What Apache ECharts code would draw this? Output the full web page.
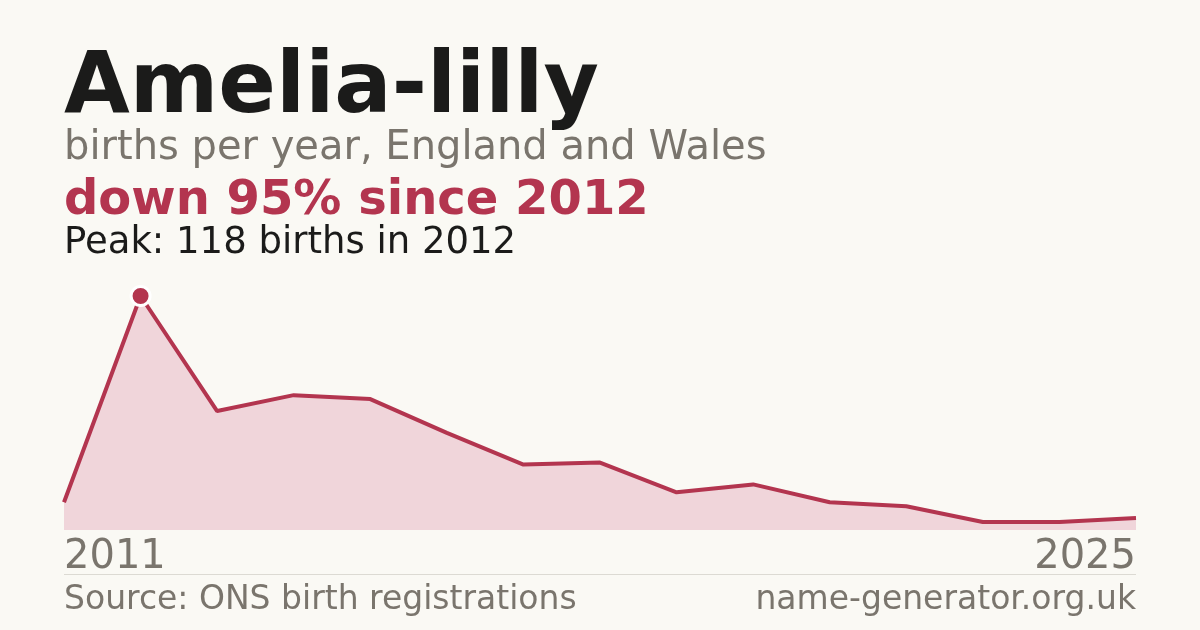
<!DOCTYPE html>
<html>
<head>
<meta charset="utf-8">
<script src="https://cdn.jsdelivr.net/npm/echarts@6/dist/echarts.min.js"></script>
<style>
html,body{margin:0;padding:0;background:#faf9f4;}
#c{width:1200px;height:630px;}
</style>
</head>
<body>
<div id="c"></div>
<script>
const years = ['2011','2012','2013','2014','2015','2016','2017','2018','2019','2020','2021','2022','2023','2024','2025'];
const births = [14,118,60,68,66,49,33,34,19,23,14,12,4,4,6];
const peakYear = '2012';
const peakValue = 118;

const RED = '#b3354f';
const GRAY = '#7a756d';
const FONT = 'DejaVu Sans';

const chart = echarts.init(document.getElementById('c'), null, {renderer:'canvas'});
chart.setOption({
  backgroundColor:'#faf9f4',
  animation:false,
  grid:{left:64,right:64,top:296,bottom:100},
  xAxis:{
    type:'category',
    data:years,
    boundaryGap:false,
    axisLine:{show:false},
    axisTick:{show:false},
    splitLine:{show:false},
    axisLabel:{
      interval:function(i){return i===0||i===years.length-1;},
      alignMinLabel:'left',
      alignMaxLabel:'right',
      color:GRAY,
      fontFamily:FONT,
      fontSize:40,
      margin:8
    }
  },
  yAxis:{
    type:'value',
    min:0,
    max:peakValue,
    show:false
  },
  series:[{
    type:'line',
    data:births,
    symbol:'none',
    lineStyle:{color:RED,width:4},
    areaStyle:{color:'#f0d5da',opacity:1},
    markPoint:{
      symbol:'circle',
      symbolSize:19,
      itemStyle:{color:RED,borderColor:'#ffffff',borderWidth:3},
      label:{show:false},
      data:[{coord:[peakYear,peakValue]}]
    }
  }],
  graphic:[
    {type:'text',left:64,top:47,style:{text:'Amelia-lilly',fill:'#1b1b1a',font:'bold 85px "DejaVu Sans"'}},
    {type:'text',left:64,top:129,style:{text:'births per year, England and Wales',fill:GRAY,font:'40px "DejaVu Sans"'}},
    {type:'text',left:64,top:178,style:{text:'down 95% since 2012',fill:RED,font:'bold 48px "DejaVu Sans"'}},
    {type:'text',left:64,top:225,style:{text:'Peak: 118 births in 2012',fill:'#1b1b1a',font:'37px "DejaVu Sans"'}},
    {type:'line',shape:{x1:64,y1:574.5,x2:1136,y2:574.5},style:{stroke:'#dcdad3',lineWidth:1}},
    {type:'text',left:64,top:584,style:{text:'Source: ONS birth registrations',fill:GRAY,font:'33px "DejaVu Sans"'}},
    {type:'text',right:64,top:584,style:{text:'name-generator.org.uk',fill:GRAY,font:'33px "DejaVu Sans"'}}
  ]
});
</script>
</body>
</html>
